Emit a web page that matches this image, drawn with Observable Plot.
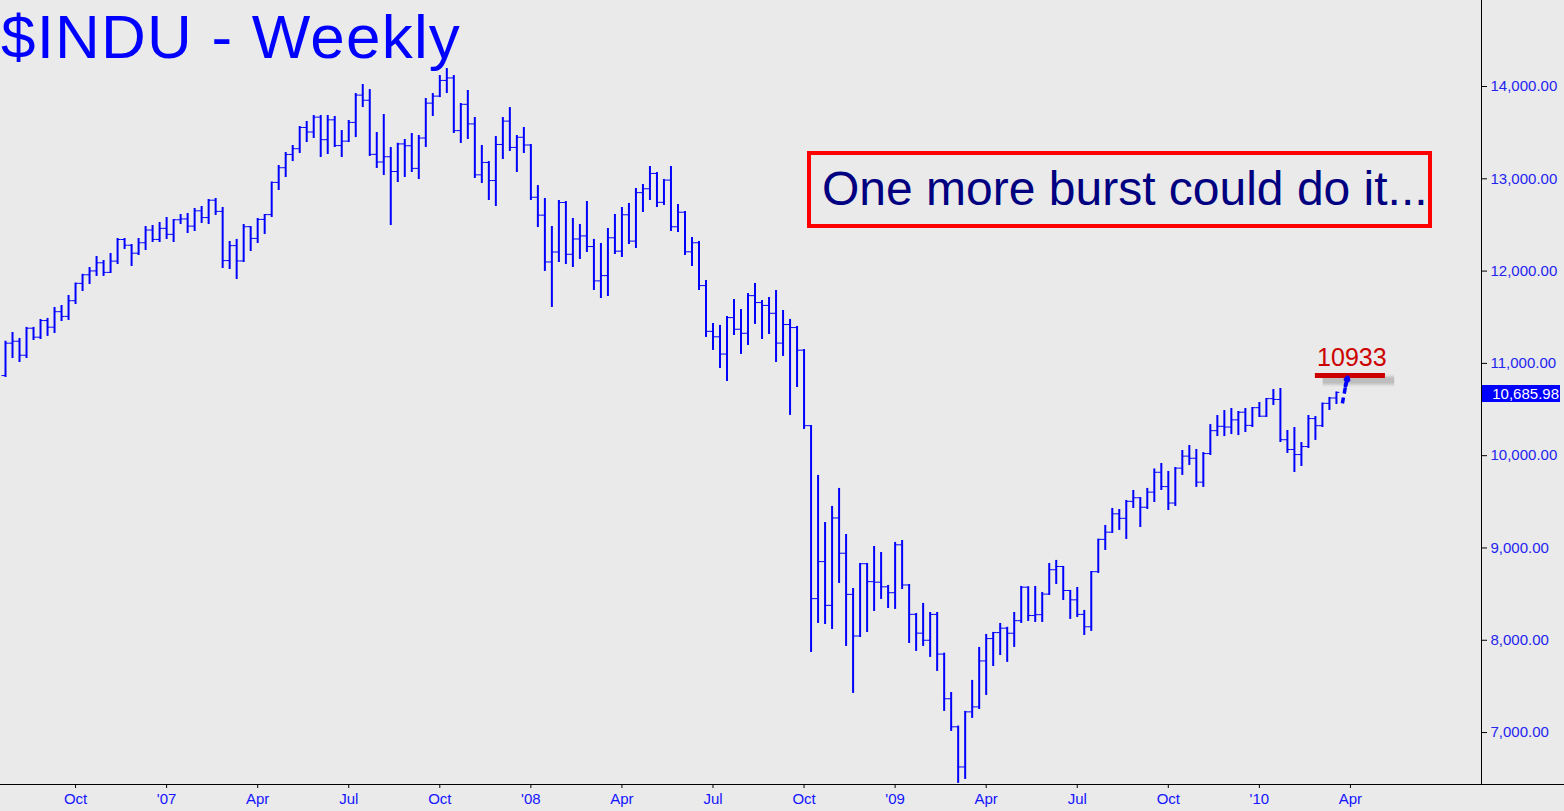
<!DOCTYPE html>
<html>
<head>
<meta charset="utf-8">
<script src="https://cdn.jsdelivr.net/npm/d3@7"></script>
<script src="https://cdn.jsdelivr.net/npm/@observablehq/plot@0.6"></script>
<style>
  html, body { margin: 0; padding: 0; background: #eaeaea; }
  #wrap { position: relative; width: 1564px; height: 811px; overflow: hidden; background: #eaeaea;
          font-family: "Liberation Sans", Arial, sans-serif; }
  #wrap svg { position: absolute; left: 0; top: 0; }
  .title { position: absolute; left: 1px; top: 1px; font-size: 62px; line-height: normal; letter-spacing: 1.2px;
           color: #0000ff; white-space: nowrap; }
  .note { position: absolute; left: 807px; top: 151px; width: 625px; height: 77px; box-sizing: border-box;
          border: 4px solid #ff0000; }
  .note span { position: absolute; left: 11px; top: 10px; font-size: 48px; line-height: 48px; color: #000080; white-space: nowrap; }
  .last { position: absolute; left: 1482px; width: 78px; height: 17px; background: #0000ff; color: #ffffff;
          font-size: 15px; line-height: 17px; text-align: right; box-sizing: border-box; padding-right: 1px; }
  .baseline { position: absolute; left: 0; top: 784px; width: 1564px; height: 1px; background: #000; }
</style>
</head>
<body>
<div id="wrap"></div>
<script>
// ---- Data: $INDU weekly bars, week ending 2006-07-28 through week of 2010-03-15 ----
const firstWeekEnding = "2006-07-28";

const opens = [
  10868, 11219, 11240, 11088, 11381, 11284, 11464, 11392, 11560, 11509,
  11679, 11867, 11960, 12002, 12090, 11986, 12108, 12342, 12280, 12194,
  12307, 12445, 12343, 12463, 12398, 12556, 12565, 12487, 12653, 12580,
  12768, 12647, 12114, 12276, 12110, 12481, 12354, 12560, 12612, 12961,
  13120, 13264, 13326, 13556, 13507, 13668, 13424, 13639, 13360, 13408,
  13611, 13907, 13851, 13265, 13182, 13239, 13079, 13378, 13358, 13113,
  13442, 13820, 13896, 14066, 14093, 13522, 13807, 13595, 13043, 13177,
  12981, 13372, 13625, 13340, 13450, 13366, 12800, 12606, 12099, 12207,
  12743, 12182, 12348, 12381, 12266, 11894, 11951, 12361, 12216, 12610,
  12325, 12850, 12892, 13058, 12745, 12986, 12480, 12638, 12209, 12307,
  11843, 11347, 11288, 11101, 11496, 11370, 11326, 11734, 11659, 11628,
  11543, 11220, 11421, 11388, 11143, 10325, 8451, 8852, 8378, 9325,
  8943, 8497, 8046, 8829, 8635, 8629, 8579, 8515, 9034, 8599,
  8281, 8077, 8000, 8280, 7850, 7366, 7062, 6627, 7224, 7278,
  7776, 8018, 8083, 8131, 8076, 8212, 8575, 8268, 8277, 8500,
  8764, 8799, 8539, 8438, 8280, 8146, 8743, 9093, 9171, 9370,
  9321, 9505, 9544, 9441, 9605, 9820, 9665, 9487, 9865, 9995,
  9972, 9713, 10023, 10271, 10318, 10310, 10388, 10471, 10328, 10520,
  10428, 10618, 10609, 10173, 10067, 10012, 10099, 10402, 10325, 10567,
  10625
];

const highs = [
  11240, 11335, 11270, 11390, 11390, 11476, 11487, 11606, 11627, 11736,
  11870, 11965, 12039, 12158, 12115, 12191, 12353, 12353, 12288, 12353,
  12483, 12494, 12527, 12581, 12559, 12613, 12624, 12678, 12700, 12776,
  12787, 12689, 12321, 12343, 12505, 12483, 12570, 12613, 12965, 13144,
  13285, 13361, 13567, 13621, 13686, 13686, 13686, 13675, 13523, 13632,
  13924, 14022, 13967, 13502, 13697, 13339, 13385, 13426, 13491, 13469,
  13870, 13924, 14119, 14195, 14119, 13816, 13957, 13664, 13361, 13187,
  13458, 13664, 13772, 13469, 13556, 13372, 12927, 12787, 12483, 12765,
  12754, 12570, 12505, 12754, 12343, 12299, 12461, 12613, 12689, 12733,
  12895, 12938, 13133, 13068, 12992, 13133, 12722, 12646, 12364, 12321,
  11898, 11432, 11411, 11508, 11692, 11584, 11757, 11866, 11681, 11714,
  11790, 11573, 11476, 11400, 11150, 10327, 9786, 9276, 9450, 9645,
  9146, 8561, 8832, 8832, 9016, 8951, 8594, 9060, 9081, 8604,
  8290, 8399, 8301, 8301, 7860, 7434, 7070, 7229, 7565, 7922,
  8063, 8085, 8182, 8140, 8301, 8583, 8580, 8583, 8518, 8832,
  8865, 8800, 8540, 8572, 8323, 8745, 9095, 9244, 9428, 9417,
  9515, 9623, 9547, 9645, 9856, 9915, 9829, 9872, 10056, 10110,
  10067, 10034, 10337, 10435, 10489, 10511, 10479, 10511, 10522, 10576,
  10620, 10717, 10728, 10273, 10305, 10143, 10435, 10424, 10570, 10631,
  10690
];

const lows = [
  10847, 11053, 11010, 11053, 11248, 11259, 11292, 11324, 11454, 11465,
  11638, 11779, 11855, 11942, 11942, 11974, 12071, 12234, 12050, 12169,
  12223, 12310, 12310, 12342, 12310, 12505, 12407, 12429, 12516, 12505,
  12603, 12028, 12017, 11909, 12093, 12212, 12299, 12397, 12581, 12873,
  13014, 13187, 13274, 13393, 13437, 13231, 13263, 13339, 13231, 13393,
  13447, 13772, 13242, 13112, 13036, 12494, 12960, 13014, 13068, 12992,
  13339, 13675, 13880, 13924, 13491, 13383, 13426, 13003, 12949, 12765,
  12700, 13209, 13296, 13068, 13274, 12765, 12472, 11996, 11606, 12093,
  12071, 12039, 12126, 12202, 11790, 11703, 11725, 12180, 12147, 12288,
  12245, 12635, 12765, 12689, 12711, 12429, 12418, 12169, 12050, 11790,
  11281, 11140, 10945, 10804, 11302, 11097, 11194, 11422, 11259, 11313,
  11010, 11075, 10436, 10739, 10284, 7868, 8182, 8171, 8117, 8615,
  7933, 7424, 8030, 8084, 8312, 8442, 8344, 8334, 8550, 7965,
  7879, 7933, 7814, 7662, 7229, 7012, 6449, 6492, 7153, 7250,
  7402, 7716, 7835, 7760, 7922, 8182, 8204, 8193, 8193, 8485,
  8604, 8431, 8226, 8247, 8052, 8096, 8724, 8973, 9157, 9190,
  9092, 9428, 9222, 9417, 9493, 9623, 9406, 9450, 9786, 9894,
  9656, 9656, 10002, 10207, 10207, 10229, 10218, 10251, 10305, 10414,
  10414, 10544, 10143, 10024, 9818, 9883, 10078, 10165, 10305, 10490,
  10555
];

const closes = [
  11219, 11240, 11088, 11381, 11284, 11464, 11392, 11560, 11509, 11679,
  11867, 11960, 12002, 12090, 11986, 12108, 12342, 12280, 12194, 12307,
  12445, 12343, 12463, 12398, 12556, 12565, 12487, 12653, 12580, 12768,
  12647, 12114, 12276, 12110, 12481, 12354, 12560, 12612, 12961, 13120,
  13264, 13326, 13556, 13507, 13668, 13424, 13639, 13360, 13408, 13611,
  13907, 13851, 13265, 13182, 13239, 13079, 13378, 13358, 13113, 13442,
  13820, 13896, 14066, 14093, 13522, 13807, 13595, 13043, 13177, 12981,
  13372, 13625, 13340, 13450, 13366, 12800, 12606, 12099, 12207, 12743,
  12182, 12348, 12381, 12266, 11894, 11951, 12361, 12216, 12610, 12325,
  12850, 12892, 13058, 12745, 12986, 12480, 12638, 12209, 12307, 11843,
  11347, 11288, 11101, 11496, 11370, 11326, 11734, 11659, 11628, 11543,
  11220, 11421, 11388, 11143, 10325, 8451, 8852, 8378, 9325, 8943,
  8497, 8046, 8829, 8635, 8629, 8579, 8515, 9034, 8599, 8281,
  8077, 8000, 8280, 7850, 7366, 7062, 6627, 7224, 7278, 7776,
  8018, 8083, 8131, 8076, 8212, 8575, 8268, 8277, 8500, 8764,
  8799, 8539, 8438, 8280, 8146, 8743, 9093, 9171, 9370, 9321,
  9505, 9544, 9441, 9605, 9820, 9665, 9487, 9865, 9995, 9972,
  9713, 10023, 10271, 10318, 10310, 10388, 10471, 10328, 10520, 10428,
  10618, 10609, 10173, 10067, 10012, 10099, 10402, 10325, 10567, 10625,
  10685.98
];

// Axis tick labels
const tickMonths = ["2006-10-01", "2007-01-01", "2007-04-01", "2007-07-01", "2007-10-01",
                    "2008-01-01", "2008-04-01", "2008-07-01", "2008-10-01", "2009-01-01",
                    "2009-04-01", "2009-07-01", "2009-10-01", "2010-01-01", "2010-04-01"];
const tickLabels = ["Oct", "'07", "Apr", "Jul", "Oct", "'08", "Apr", "Jul", "Oct", "'09",
                    "Apr", "Jul", "Oct", "'10", "Apr"];
const yTicks = [7000, 8000, 9000, 10000, 11000, 12000, 13000, 14000];

// Annotations
const titleText = "$INDU - Weekly";
const noteText = "One more burst could do it...";
const target = 10933;

// ---- Build ----
const data = closes.map((c, i) => ({i, open: opens[i], high: highs[i], low: lows[i], close: c}));
const lastIdx = data.length - 1;
const lastClose = closes[lastIdx];

const weekMs = 7 * 864e5;
const t0 = Date.parse(firstWeekEnding);
const tickIdx = tickMonths.map(s => Math.ceil((Date.parse(s) - t0) / weekMs));
const labelOf = new Map(tickIdx.map((t, k) => [t, tickLabels[k]]));

const xDomain = [-0.714, 210.71];
const yDomain = [6437, 14932];
const blue = "#0000ff";

// soft shadow under the target line (layered, low opacity)
const shadowLayers = [
  {w: 12, o: 0.06}, {w: 9, o: 0.08}, {w: 6, o: 0.12}
];

const plot = Plot.plot({
  width: 1564,
  height: 811,
  marginLeft: 0,
  marginRight: 83,
  marginTop: 0,
  marginBottom: 27,
  style: {background: "transparent", color: "#2222ee", fontFamily: "'Liberation Sans', Arial, sans-serif"},
  x: {type: "linear", domain: xDomain},
  y: {type: "linear", domain: yDomain},
  marks: [
    Plot.axisY({anchor: "right", ticks: yTicks, tickFormat: d3.format(",.2f"), tickSize: 5, tickPadding: 4,
                fontSize: 15, stroke: "black", fill: "#2424f0", label: null}),
    Plot.axisX({ticks: tickIdx, tickFormat: d => labelOf.get(d), tickSize: 4, tickPadding: 5,
                fontSize: 15, stroke: "black", fill: "#1414ff", label: null}),
    Plot.ruleX([xDomain[1]], {stroke: "black", strokeWidth: 1}),
    // OHLC bars
    Plot.ruleX(data, {x: "i", y1: "low", y2: "high", stroke: blue, strokeWidth: 2}),
    Plot.ruleY(data, {y: "open", x1: d => d.i - 0.5, x2: "i", stroke: blue, strokeWidth: 1}),
    Plot.ruleY(data, {y: "close", x1: "i", x2: d => d.i + 0.5, stroke: blue, strokeWidth: 1}),
    // target annotation
    ...shadowLayers.map(s => Plot.ruleY([target], {x1: lastIdx - 2.6, x2: lastIdx + 7.6, stroke: "#333",
                          strokeOpacity: s.o, strokeWidth: s.w, dx: 5, dy: 11})),
    Plot.ruleY([target], {x1: lastIdx - 3, x2: lastIdx + 7, stroke: "#cc0000", strokeWidth: 5, dy: 6}),
    Plot.text([target], {x: lastIdx + 2.2, y: d => d, text: d => String(d), fill: "#cc0000", fontSize: 25,
                         lineAnchor: "bottom", dy: -4}),
    Plot.link([target], {x1: lastIdx + 0.85, y1: lastClose - 120, x2: lastIdx + 1.35, y2: target - 160,
                         stroke: blue, strokeWidth: 3.5, strokeDasharray: "6,4"}),
    Plot.arrow([target], {x1: lastIdx + 1.3, y1: target - 175, x2: lastIdx + 1.6, y2: target - 85,
                          stroke: blue, strokeWidth: 4, headLength: 11})
  ]
});

const wrap = document.getElementById("wrap");
wrap.appendChild(plot);

const base = document.createElement("div");
base.className = "baseline";
wrap.appendChild(base);

const title = document.createElement("div");
title.className = "title";
title.textContent = titleText;
wrap.appendChild(title);

const note = document.createElement("div");
note.className = "note";
const span = document.createElement("span");
span.textContent = noteText;
note.appendChild(span);
wrap.appendChild(note);

const yScale = plot.scale("y");
const last = document.createElement("div");
last.className = "last";
last.textContent = d3.format(",.2f")(lastClose);
last.style.top = (Math.round(yScale.apply(lastClose)) - 7) + "px";
wrap.appendChild(last);
</script>
</body>
</html>
